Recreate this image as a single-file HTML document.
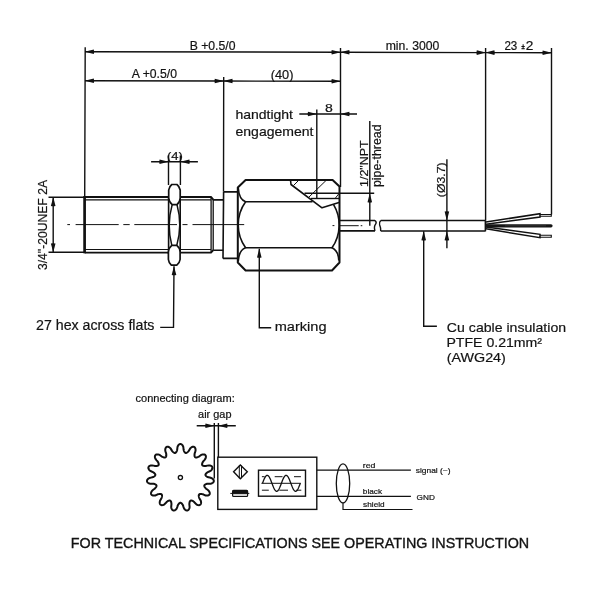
<!DOCTYPE html>
<html><head><meta charset="utf-8"><style>
html,body{margin:0;padding:0;background:#fff;width:600px;height:600px;overflow:hidden}
svg{display:block;will-change:transform}
text{font-family:"Liberation Sans",sans-serif;fill:#111}
</style></head><body>
<svg width="600" height="600" viewBox="0 0 600 600">
<defs>
<path id="ar" d="M0.3,0L-8.8,-2.3Q-9.5,0 -8.8,2.3Z"/>
</defs>
<g stroke="#111" fill="none" stroke-width="1.4">
<!-- extension lines top -->
<path d="M85.2,47.2L84.7,197 M223.7,77L223.5,191.7 M340.5,48V187 M485.6,48V220.3 M551.5,48V214.5 M316.8,109.5V198.5"/>
<!-- dimension lines -->
<path d="M85,51.7L340.5,52.2L485.6,52.6L551.5,52.8 M85,80.7L223.6,81L340.5,81.3 M299.3,114H357 M151.1,161.7H197.9 M196.7,425.7H235.8"/>
<!-- (4) extension -->
<path d="M168.5,155.5V185 M180.4,155.5V185"/>
<!-- 1/2 NPT leader -->
<path d="M369.8,121V225.7 M304.5,193.3H374.2"/>
<!-- dia 3.7 -->
<path d="M446.9,159.2V248.3"/>
<!-- 3/4 dim -->
<path d="M48.5,197.2H84 M48.5,252.3H84 M53.2,197.2V252.3"/>
<!-- air gap -->
<path d="M214.3,423V478.5 M218.4,423V457.3"/>
<!-- leaders -->
<path d="M174,266.2L173.5,327.4H160.2 M259.3,248.7V327.7H271.2 M423.7,231.3V326.2H436.9"/>
</g>
<!-- arrows -->
<g fill="#111" stroke="none">
<use href="#ar" transform="translate(85,51.7) rotate(180)"/>
<use href="#ar" transform="translate(340.5,52.2)"/>
<use href="#ar" transform="translate(340.5,52.3) rotate(180)"/>
<use href="#ar" transform="translate(485.6,52.6)"/>
<use href="#ar" transform="translate(485.6,52.6) rotate(180)"/>
<use href="#ar" transform="translate(551.5,52.8)"/>
<use href="#ar" transform="translate(85,80.7) rotate(180)"/>
<use href="#ar" transform="translate(223.6,81)"/>
<use href="#ar" transform="translate(223.6,81) rotate(180)"/>
<use href="#ar" transform="translate(340.5,81.3)"/>
<use href="#ar" transform="translate(316.8,114)"/>
<use href="#ar" transform="translate(340.5,114) rotate(180)"/>
<use href="#ar" transform="translate(168.4,161.7)"/>
<use href="#ar" transform="translate(180.6,161.7) rotate(180)"/>
<use href="#ar" transform="translate(53.2,197.2) rotate(-90)"/>
<use href="#ar" transform="translate(53.2,252.3) rotate(90)"/>
<use href="#ar" transform="translate(369.8,193.5) rotate(-90)"/>
<use href="#ar" transform="translate(446.9,220.4) rotate(90)"/>
<use href="#ar" transform="translate(446.9,231.4) rotate(-90)"/>
<use href="#ar" transform="translate(174,266.2) rotate(-90)"/>
<use href="#ar" transform="translate(259.3,248.7) rotate(-90)"/>
<use href="#ar" transform="translate(423.7,231.4) rotate(-90)"/>
<use href="#ar" transform="translate(214.3,425.7)"/>
<use href="#ar" transform="translate(218.4,425.7) rotate(180)"/>
</g>
<!-- thread body -->
<g stroke="#111" fill="none" stroke-linejoin="round">
<path d="M84.6,196V253.3" stroke-width="2.7"/>
<path d="M84.6,197H211 L213.5,199.8 M84.6,252.6H211 L213.3,250.2" stroke-width="1.9"/>
<path d="M84.6,199.9H211 M84.6,249.5H211" stroke-width="1.2"/>
<path d="M211.1,197V252.8 M213.2,199.5V250.5" stroke-width="1.3"/>
<!-- neck -->
<path d="M213.3,199.9H223.3 M213.3,250.3H223.3" stroke-width="1.6"/>
<!-- flange -->
<path d="M223.6,191.9H237.8 M223,258.4H237.8 M223.6,191.9L223,258.4" stroke-width="1.6"/>
<!-- hex outline -->
<path d="M245.6,180H332.6L339.5,186.5V262.5L332,270.5H245.6L237.8,262.5V187.5Z" stroke-width="2"/>
<!-- hex inner lines -->
<path d="M245.6,201.8H312.5 M245.6,247.8H332" stroke-width="1.6"/>
<path d="M238.2,187.5 Q239,199.5 245.6,201.8 A39.5,39.5 0 0 0 245.6,247.8 Q239,250 238.2,261.5" stroke-width="1.6"/>
<path d="M333.6,204.6 A40,40 0 0 1 332,247.8 Q338.5,251 338.8,260.5" stroke-width="1.6"/>
<!-- cutout -->
<path d="M290.5,180 L291,184.5 L322,207.8 L339,202.6" stroke-width="1.6"/>
<path d="M311,198.5H339.5" stroke-width="1.4"/>
<path d="M298.5,180.5L293.5,185.5 M326,180.5L308.5,197.5 M339,193.5L335.5,198" stroke-width="1"/>
<!-- cable -->
<path d="M339.5,220.5H375 M339.5,230.9H375 M380.7,220.5H485.6 M380.7,231H485.6 M485.4,220.3V231.2" stroke-width="1.6"/>
<path d="M375,220.5 q2,1.6 0.6,3.6 q-2,2.6 -0.6,6.8 M380.7,220.5 q-1.8,2 -1.1,4.2 q1.4,3.4 1.1,6.3" stroke-width="1.4"/>
<!-- nut -->
<path d="M168.6,196V254 M180.2,196V254" stroke-width="1.6"/>
<path d="M171.8,184.5H176.9 Q179.6,186.5 180.2,190 V198 Q180,202.2 177,204.6H172.2 Q169,202.2 168.7,198 V190 Q169.2,186.5 171.8,184.5Z" stroke-width="1.7" fill="#fff"/>
<path d="M171.8,245.4H176.8 Q179.8,247.8 180.1,252 V259.5 Q179.6,263 176.8,265.2H171.3 Q168.8,263 168.4,259.5 V252 Q168.8,247.8 171.8,245.4Z" stroke-width="1.7" fill="#fff"/>
<path d="M172.2,204.6Q166.4,225 171.8,245.4 M177,204.6Q182.6,225 176.8,245.4" stroke-width="1.5"/>
</g>
<!-- center line -->
<g stroke="#111" stroke-width="1">
<path d="M67.3,224.6H70 M75.6,224.6H118.7 M123.3,224.6H129.7 M134.3,224.6H177 M182.5,224.6H187.5 M192.5,224.6H244.2 M332.5,225.6H334.4 M339.5,225.7H358.7 M360.7,225.7H362.3"/>
</g>
<!-- wires -->
<g stroke="#111" fill="none" stroke-width="1.3">
<path d="M486,222L540,213.7V217L486,224.3" stroke-width="1.5"/>
<path d="M486,227L540,234.3V237.7L486,228.8" stroke-width="1.5"/>
<path d="M540,214.5H551.3V216.3H540 M540,235.3H551.3V237.3H540" stroke-width="1.1"/>
<path d="M487,225.8H551" stroke="#151515" stroke-width="3.2" stroke-linecap="round"/>
<path d="M505,225.8H546" stroke="#444" stroke-width="0.6"/>
</g>
<!-- connecting diagram -->
<g stroke="#111" fill="none">
<path d="M180.40,444.00 L180.75,444.03 L181.10,444.13 L181.45,444.30 L181.79,444.53 L182.12,444.83 L182.44,445.21 L182.74,445.67 L183.03,446.23 L183.30,446.96 L183.47,448.36 L183.62,449.77 L183.82,450.49 L184.04,451.06 L184.25,451.54 L184.47,451.93 L184.69,452.26 L184.91,452.52 L185.15,452.72 L185.39,452.87 L185.64,452.95 L185.90,452.98 L186.18,452.94 L186.48,452.85 L186.79,452.71 L187.13,452.50 L187.49,452.22 L187.87,451.88 L188.30,451.44 L188.78,450.86 L189.49,449.64 L190.22,448.43 L190.75,447.87 L191.24,447.48 L191.71,447.18 L192.16,446.97 L192.58,446.83 L192.99,446.75 L193.37,446.74 L193.73,446.79 L194.07,446.90 L194.37,447.08 L194.65,447.31 L194.90,447.60 L195.12,447.95 L195.30,448.36 L195.44,448.84 L195.53,449.39 L195.56,450.02 L195.51,450.78 L195.10,452.14 L194.66,453.48 L194.55,454.23 L194.51,454.84 L194.52,455.35 L194.55,455.80 L194.62,456.19 L194.72,456.53 L194.85,456.80 L195.02,457.03 L195.21,457.21 L195.44,457.34 L195.71,457.43 L196.02,457.47 L196.36,457.46 L196.76,457.40 L197.19,457.30 L197.69,457.14 L198.25,456.92 L198.93,456.58 L200.07,455.75 L201.23,454.94 L201.95,454.65 L202.56,454.49 L203.11,454.41 L203.60,454.40 L204.05,454.44 L204.45,454.54 L204.80,454.68 L205.11,454.88 L205.37,455.12 L205.58,455.40 L205.74,455.73 L205.85,456.09 L205.90,456.50 L205.90,456.95 L205.83,457.44 L205.70,457.98 L205.47,458.57 L205.11,459.25 L204.19,460.32 L203.24,461.37 L202.84,462.01 L202.55,462.54 L202.34,463.02 L202.20,463.45 L202.10,463.83 L202.06,464.17 L202.06,464.48 L202.12,464.76 L202.22,465.00 L202.38,465.21 L202.59,465.40 L202.86,465.56 L203.18,465.69 L203.56,465.80 L204.00,465.89 L204.52,465.94 L205.12,465.97 L205.88,465.94 L207.26,465.64 L208.65,465.38 L209.42,465.40 L210.04,465.50 L210.57,465.65 L211.03,465.84 L211.42,466.06 L211.75,466.31 L212.01,466.59 L212.22,466.89 L212.36,467.22 L212.43,467.56 L212.45,467.92 L212.40,468.30 L212.28,468.70 L212.09,469.11 L211.83,469.53 L211.49,469.96 L211.04,470.41 L210.44,470.89 L209.16,471.49 L207.87,472.06 L207.24,472.48 L206.76,472.86 L206.38,473.21 L206.07,473.53 L205.83,473.85 L205.65,474.14 L205.52,474.43 L205.46,474.70 L205.46,474.97 L205.52,475.23 L205.64,475.48 L205.81,475.73 L206.05,475.99 L206.35,476.24 L206.72,476.50 L207.17,476.76 L207.72,477.03 L208.42,477.31 L209.80,477.60 L211.18,477.92 L211.87,478.26 L212.40,478.61 L212.82,478.96 L213.17,479.32 L213.43,479.68 L213.63,480.04 L213.76,480.40 L213.82,480.76 L213.82,481.11 L213.75,481.46 L213.61,481.80 L213.41,482.12 L213.14,482.44 L212.81,482.73 L212.40,483.01 L211.91,483.27 L211.32,483.50 L210.57,483.68 L209.16,483.71 L207.75,483.71 L207.00,483.84 L206.41,483.99 L205.92,484.15 L205.50,484.33 L205.15,484.51 L204.87,484.71 L204.64,484.92 L204.48,485.15 L204.37,485.39 L204.31,485.65 L204.32,485.93 L204.37,486.23 L204.49,486.56 L204.66,486.91 L204.90,487.30 L205.20,487.72 L205.59,488.19 L206.12,488.73 L207.26,489.56 L208.39,490.41 L208.88,491.00 L209.22,491.53 L209.47,492.03 L209.64,492.50 L209.73,492.93 L209.76,493.34 L209.73,493.73 L209.65,494.08 L209.50,494.40 L209.29,494.69 L209.03,494.94 L208.72,495.16 L208.35,495.34 L207.92,495.47 L207.43,495.56 L206.88,495.60 L206.25,495.56 L205.49,495.43 L204.19,494.88 L202.90,494.31 L202.16,494.12 L201.56,494.02 L201.05,493.97 L200.60,493.96 L200.20,493.98 L199.86,494.05 L199.57,494.15 L199.33,494.29 L199.13,494.46 L198.97,494.68 L198.86,494.94 L198.79,495.24 L198.76,495.58 L198.78,495.98 L198.83,496.42 L198.94,496.93 L199.10,497.52 L199.37,498.23 L200.07,499.45 L200.76,500.69 L200.97,501.43 L201.06,502.05 L201.09,502.61 L201.05,503.10 L200.96,503.54 L200.82,503.93 L200.64,504.26 L200.41,504.55 L200.15,504.78 L199.85,504.96 L199.50,505.09 L199.13,505.16 L198.72,505.17 L198.27,505.12 L197.79,505.00 L197.27,504.81 L196.71,504.52 L196.07,504.09 L195.10,503.06 L194.16,502.01 L193.56,501.54 L193.06,501.21 L192.61,500.95 L192.20,500.76 L191.83,500.62 L191.49,500.54 L191.18,500.51 L190.90,500.54 L190.65,500.62 L190.42,500.76 L190.21,500.95 L190.03,501.19 L189.86,501.50 L189.71,501.86 L189.58,502.29 L189.47,502.80 L189.39,503.40 L189.34,504.16 L189.49,505.56 L189.60,506.97 L189.50,507.73 L189.33,508.34 L189.13,508.86 L188.89,509.29 L188.63,509.66 L188.35,509.96 L188.04,510.19 L187.72,510.36 L187.39,510.47 L187.04,510.51 L186.67,510.48 L186.30,510.39 L185.92,510.23 L185.53,510.01 L185.14,509.71 L184.74,509.32 L184.34,508.83 L183.94,508.18 L183.47,506.84 L183.04,505.50 L182.69,504.83 L182.36,504.31 L182.05,503.89 L181.76,503.55 L181.48,503.28 L181.20,503.07 L180.93,502.92 L180.66,502.83 L180.40,502.80 L180.14,502.83 L179.87,502.92 L179.60,503.07 L179.32,503.28 L179.04,503.55 L178.75,503.89 L178.44,504.31 L178.11,504.83 L177.76,505.50 L177.33,506.84 L176.86,508.18 L176.46,508.83 L176.06,509.32 L175.66,509.71 L175.27,510.01 L174.88,510.23 L174.50,510.39 L174.13,510.48 L173.76,510.51 L173.41,510.47 L173.08,510.36 L172.76,510.19 L172.45,509.96 L172.17,509.66 L171.91,509.29 L171.67,508.86 L171.47,508.34 L171.30,507.73 L171.20,506.97 L171.31,505.56 L171.46,504.16 L171.41,503.40 L171.33,502.80 L171.22,502.29 L171.09,501.86 L170.94,501.50 L170.77,501.19 L170.59,500.95 L170.38,500.76 L170.15,500.62 L169.90,500.54 L169.62,500.51 L169.31,500.54 L168.97,500.62 L168.60,500.76 L168.19,500.95 L167.74,501.21 L167.24,501.54 L166.64,502.01 L165.70,503.06 L164.73,504.09 L164.09,504.52 L163.53,504.81 L163.01,505.00 L162.53,505.12 L162.08,505.17 L161.67,505.16 L161.30,505.09 L160.95,504.96 L160.65,504.78 L160.39,504.55 L160.16,504.26 L159.98,503.93 L159.84,503.54 L159.75,503.10 L159.71,502.61 L159.74,502.05 L159.83,501.43 L160.04,500.69 L160.73,499.45 L161.43,498.23 L161.70,497.52 L161.86,496.93 L161.97,496.42 L162.02,495.98 L162.04,495.58 L162.01,495.24 L161.94,494.94 L161.83,494.68 L161.67,494.46 L161.47,494.29 L161.23,494.15 L160.94,494.05 L160.60,493.98 L160.20,493.96 L159.75,493.97 L159.24,494.02 L158.64,494.12 L157.90,494.31 L156.61,494.88 L155.31,495.43 L154.55,495.56 L153.92,495.60 L153.37,495.56 L152.88,495.47 L152.45,495.34 L152.08,495.16 L151.77,494.94 L151.51,494.69 L151.30,494.40 L151.15,494.08 L151.07,493.73 L151.04,493.34 L151.07,492.93 L151.16,492.50 L151.33,492.03 L151.58,491.53 L151.92,491.00 L152.41,490.41 L153.54,489.56 L154.68,488.73 L155.21,488.19 L155.60,487.72 L155.90,487.30 L156.14,486.91 L156.31,486.56 L156.43,486.23 L156.48,485.93 L156.49,485.65 L156.43,485.39 L156.32,485.15 L156.16,484.92 L155.93,484.71 L155.65,484.51 L155.30,484.33 L154.88,484.15 L154.39,483.99 L153.80,483.84 L153.05,483.71 L151.64,483.71 L150.23,483.68 L149.48,483.50 L148.89,483.27 L148.40,483.01 L147.99,482.73 L147.66,482.44 L147.39,482.12 L147.19,481.80 L147.05,481.46 L146.98,481.11 L146.98,480.76 L147.04,480.40 L147.17,480.04 L147.37,479.68 L147.63,479.32 L147.98,478.96 L148.40,478.61 L148.93,478.26 L149.62,477.92 L151.00,477.60 L152.38,477.31 L153.08,477.03 L153.63,476.76 L154.08,476.50 L154.45,476.24 L154.75,475.99 L154.99,475.73 L155.16,475.48 L155.28,475.23 L155.34,474.97 L155.34,474.70 L155.28,474.43 L155.15,474.14 L154.97,473.85 L154.73,473.53 L154.42,473.21 L154.04,472.86 L153.56,472.48 L152.93,472.06 L151.64,471.49 L150.36,470.89 L149.76,470.41 L149.31,469.96 L148.97,469.53 L148.71,469.11 L148.52,468.70 L148.40,468.30 L148.35,467.92 L148.37,467.56 L148.44,467.22 L148.58,466.89 L148.79,466.59 L149.05,466.31 L149.38,466.06 L149.77,465.84 L150.23,465.65 L150.76,465.50 L151.38,465.40 L152.15,465.38 L153.54,465.64 L154.92,465.94 L155.68,465.97 L156.28,465.94 L156.80,465.89 L157.24,465.80 L157.62,465.69 L157.94,465.56 L158.21,465.40 L158.42,465.21 L158.58,465.00 L158.68,464.76 L158.74,464.48 L158.74,464.17 L158.70,463.83 L158.60,463.45 L158.46,463.02 L158.25,462.54 L157.96,462.01 L157.56,461.37 L156.61,460.32 L155.69,459.25 L155.33,458.57 L155.10,457.98 L154.97,457.44 L154.90,456.95 L154.90,456.50 L154.95,456.09 L155.06,455.73 L155.22,455.40 L155.43,455.12 L155.69,454.88 L156.00,454.68 L156.35,454.54 L156.75,454.44 L157.20,454.40 L157.69,454.41 L158.24,454.49 L158.85,454.65 L159.57,454.94 L160.73,455.75 L161.87,456.58 L162.55,456.92 L163.11,457.14 L163.61,457.30 L164.04,457.40 L164.44,457.46 L164.78,457.47 L165.09,457.43 L165.36,457.34 L165.59,457.21 L165.78,457.03 L165.95,456.80 L166.08,456.53 L166.18,456.19 L166.25,455.80 L166.28,455.35 L166.29,454.84 L166.25,454.23 L166.14,453.48 L165.70,452.14 L165.29,450.78 L165.24,450.02 L165.27,449.39 L165.36,448.84 L165.50,448.36 L165.68,447.95 L165.90,447.60 L166.15,447.31 L166.43,447.08 L166.73,446.90 L167.07,446.79 L167.43,446.74 L167.81,446.75 L168.22,446.83 L168.64,446.97 L169.09,447.18 L169.56,447.48 L170.05,447.87 L170.58,448.43 L171.31,449.64 L172.02,450.86 L172.50,451.44 L172.93,451.88 L173.31,452.22 L173.67,452.50 L174.01,452.71 L174.32,452.85 L174.62,452.94 L174.90,452.98 L175.16,452.95 L175.41,452.87 L175.65,452.72 L175.89,452.52 L176.11,452.26 L176.33,451.93 L176.55,451.54 L176.76,451.06 L176.98,450.49 L177.18,449.77 L177.33,448.36 L177.50,446.96 L177.77,446.23 L178.06,445.67 L178.36,445.21 L178.68,444.83 L179.01,444.53 L179.35,444.30 L179.70,444.13 L180.05,444.03Z" stroke-width="2"/>
<circle cx="180.4" cy="477.6" r="2.1" stroke-width="1.3"/>
<rect x="217.8" y="457.2" width="99" height="52.2" stroke-width="1.4"/>
<path d="M233.6,471.8L240.3,464.9L247.3,471.8L240.3,478.7Z" stroke-width="1.4" stroke-linejoin="miter"/>
<path d="M239.3,465.5V478.3 M241.5,465.5V478.3" stroke-width="1"/>
<rect x="232.6" y="490.3" width="15" height="6.2" stroke-width="1.2" fill="#d0d0d0" rx="1"/>
<rect x="232.6" y="490.3" width="15" height="3.2" fill="#111" stroke="none"/>
<path d="M230.3,493.4H249.3" stroke-width="1"/>
<rect x="258.5" y="470.2" width="47" height="26" stroke-width="1.4"/>
<path d="M261.4,483.3H300.9 M261.9,476.7H264.6 M274.7,476.7H282.5 M294,476.7H300.9 M261.9,490.2H268.8 M279.3,490.2H288 M296.3,490.2H301.3" stroke-width="1"/>
<path d="M262.50,483.30 L262.92,482.19 L263.34,481.09 L263.76,480.05 L264.18,479.06 L264.60,478.16 L265.02,477.35 L265.44,476.67 L265.86,476.11 L266.28,475.69 L266.70,475.42 L267.12,475.30 L267.54,475.34 L267.96,475.54 L268.38,475.88 L268.80,476.37 L269.22,477.00 L269.64,477.74 L270.06,478.60 L270.48,479.54 L270.90,480.56 L271.32,481.64 L271.74,482.74 L272.16,483.86 L272.58,484.96 L273.00,486.04 L273.42,487.06 L273.84,488.00 L274.26,488.86 L274.68,489.60 L275.10,490.23 L275.52,490.72 L275.94,491.06 L276.36,491.26 L276.78,491.30 L277.20,491.18 L277.62,490.91 L278.04,490.49 L278.46,489.93 L278.88,489.25 L279.30,488.44 L279.72,487.54 L280.14,486.55 L280.56,485.51 L280.98,484.41 L281.40,483.30 L281.82,482.19 L282.24,481.09 L282.66,480.05 L283.08,479.06 L283.50,478.16 L283.92,477.35 L284.34,476.67 L284.76,476.11 L285.18,475.69 L285.60,475.42 L286.02,475.30 L286.44,475.34 L286.86,475.54 L287.28,475.88 L287.70,476.37 L288.12,477.00 L288.54,477.74 L288.96,478.60 L289.38,479.54 L289.80,480.56 L290.22,481.64 L290.64,482.74 L291.06,483.86 L291.48,484.96 L291.90,486.04 L292.32,487.06 L292.74,488.00 L293.16,488.86 L293.58,489.60 L294.00,490.23 L294.42,490.72 L294.84,491.06 L295.26,491.26 L295.68,491.30 L296.10,491.18 L296.52,490.91 L296.94,490.49 L297.36,489.93 L297.78,489.25 L298.20,488.44 L298.62,487.54 L299.04,486.55 L299.46,485.51 L299.88,484.41 L300.30,483.30" stroke-width="1.3"/>
<path d="M316.8,470.1H410.9 M316.8,496.4H410.9 M343,502.9V509.5H412.5" stroke-width="1.2"/>
<ellipse cx="343" cy="483.4" rx="6.7" ry="19.5" stroke-width="1.3"/>
</g>
<!-- texts -->
<g opacity="0.99" stroke="#111" stroke-width="0.2">
<text x="189.68" y="49.80" font-size="12" textLength="45.80" lengthAdjust="spacingAndGlyphs">B +0.5/0</text>
<text x="131.84" y="78.30" font-size="12" textLength="45.17" lengthAdjust="spacingAndGlyphs">A +0.5/0</text>
<text x="270.80" y="79.30" font-size="12" textLength="22.66" lengthAdjust="spacingAndGlyphs">(40)</text>
<text x="385.67" y="50.30" font-size="12" textLength="53.65" lengthAdjust="spacingAndGlyphs">min. 3000</text>
<text x="504.39" y="50.30" font-size="12" textLength="12.92" lengthAdjust="spacingAndGlyphs">23</text>
<text x="521.59" y="48.70" font-size="7" textLength="3.19" lengthAdjust="spacingAndGlyphs" stroke-width="0.5">±</text>
<text x="525.79" y="50.30" font-size="12" textLength="7.61" lengthAdjust="spacingAndGlyphs">2</text>
<text x="166.93" y="159.80" font-size="10.5" textLength="15.87" lengthAdjust="spacingAndGlyphs">(4)</text>
<text x="324.92" y="111.60" font-size="10.5" textLength="7.81" lengthAdjust="spacingAndGlyphs">8</text>
<text x="235.41" y="119.40" font-size="13.3" textLength="57.58" lengthAdjust="spacingAndGlyphs">handtight</text>
<text x="235.51" y="135.50" font-size="13.3" textLength="77.97" lengthAdjust="spacingAndGlyphs">engagement</text>
<text x="36.00" y="329.60" font-size="14" textLength="118.48" lengthAdjust="spacingAndGlyphs">27 hex across flats</text>
<text x="274.70" y="330.70" font-size="13.7" textLength="51.82" lengthAdjust="spacingAndGlyphs">marking</text>
<text x="446.88" y="331.60" font-size="13.5" textLength="119.24" lengthAdjust="spacingAndGlyphs">Cu cable insulation</text>
<text x="446.42" y="346.80" font-size="13.5" textLength="95.65" lengthAdjust="spacingAndGlyphs">PTFE 0.21mm²</text>
<text x="446.74" y="361.90" font-size="13.5" textLength="59.13" lengthAdjust="spacingAndGlyphs">(AWG24)</text>
<text x="135.52" y="401.70" font-size="10" textLength="99.21" lengthAdjust="spacingAndGlyphs">connecting diagram:</text>
<text x="198.12" y="417.90" font-size="10" textLength="33.37" lengthAdjust="spacingAndGlyphs">air gap</text>
<text x="362.78" y="467.70" font-size="8" textLength="12.66" lengthAdjust="spacingAndGlyphs">red</text>
<text x="362.89" y="493.60" font-size="8" textLength="19.20" lengthAdjust="spacingAndGlyphs">black</text>
<text x="363.14" y="506.60" font-size="8" textLength="21.50" lengthAdjust="spacingAndGlyphs">shield</text>
<text x="415.74" y="473.00" font-size="8" textLength="34.79" lengthAdjust="spacingAndGlyphs">signal (~)</text>
<text x="416.61" y="499.50" font-size="8" textLength="18.30" lengthAdjust="spacingAndGlyphs">GND</text>
<text x="70.83" y="548.30" font-size="14.5" textLength="458.30" lengthAdjust="spacingAndGlyphs" stroke-width="0.35">FOR TECHNICAL SPECIFICATIONS SEE OPERATING INSTRUCTION</text>
<text transform="translate(46.70,270.09) rotate(-90)" font-size="12.5" textLength="90.13" lengthAdjust="spacingAndGlyphs">3/4&quot;-20UNEF 2A</text>
<text transform="translate(367.50,186.92) rotate(-90)" font-size="11" textLength="46.41" lengthAdjust="spacingAndGlyphs">1/2&quot;NPT</text>
<text transform="translate(380.60,187.07) rotate(-90)" font-size="12" textLength="62.67" lengthAdjust="spacingAndGlyphs">pipe-thread</text>
<text transform="translate(445.20,197.13) rotate(-90)" font-size="10.5" textLength="34.67" lengthAdjust="spacingAndGlyphs">(Ø3.7)</text>
</g>
</svg>
</body></html>
